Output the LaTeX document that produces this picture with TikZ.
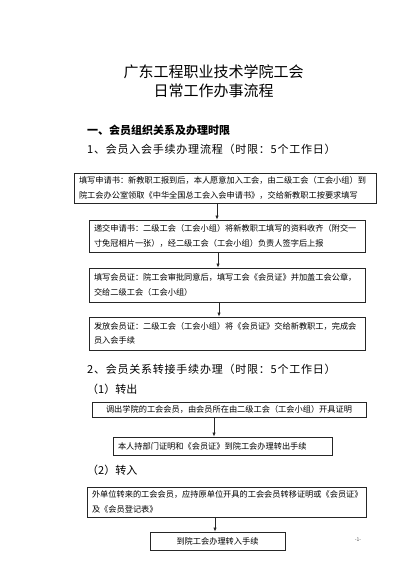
\documentclass[tikz,border=0pt]{standalone}
\usepackage{fontspec}
\setmainfont{Noto Sans CJK SC}
\newfontfamily\spacedfont[LetterSpace=7]{Noto Sans CJK SC}
\usetikzlibrary{arrows.meta}
\tikzset{
  flowbox/.style={draw=black!85, line width=0.7pt, rectangle, inner xsep=5pt, inner ysep=0pt,
    align=left, font=\fontsize{8.2}{14.5}\selectfont, anchor=center},
  heading/.style={anchor=west, font=\fontsize{11}{13}\selectfont, inner sep=0pt},
  titletext/.style={anchor=center, font=\fontsize{15}{18}\selectfont, inner sep=0pt},
  arr/.style={-{Latex[length=4pt,width=3.2pt]}, line width=0.6pt, draw=black!85}
}
\begin{document}
\begin{tikzpicture}[x=1pt,y=-1pt]
\useasboundingbox (0,0) rectangle (414,585);
\fill[white] (0,0) rectangle (414,585);

\node[titletext] (t1) at (213.5,72) {广东工程职业技术学院工会};
\node[titletext] (t2) at (213.5,91) {日常工作办事流程};

\node[heading, font=\fontsize{11}{13}\selectfont\bfseries] (h1) at (87,130) {一、会员组织关系及办理时限};
\node[heading, font=\fontsize{11}{13}\spacedfont] (h2) at (87,149.5) {1、会员入会手续办理流程（时限：5个工作日）};

\node[flowbox, minimum width=302pt, minimum height=30pt, text width=292pt] (b1) at (225,188)
  {填写申请书：新教职工报到后，本人愿意加入工会，由二级工会（工会小组）到\\院工会办公室领取《中华全国总工会入会申请书》，交给新教职工按要求填写};
\node[flowbox, minimum width=276pt, minimum height=32pt, text width=266pt] (b2) at (227,236)
  {递交申请书：二级工会（工会小组）将新教职工填写的资料收齐（附交一\\寸免冠相片一张），经二级工会（工会小组）负责人签字后上报};
\node[flowbox, minimum width=276pt, minimum height=34pt, text width=266pt] (b3) at (227,285)
  {填写会员证：院工会审批同意后，填写工会《会员证》并加盖工会公章，\\交给二级工会（工会小组）};
\node[flowbox, minimum width=276pt, minimum height=33pt, text width=266pt] (b4) at (227,333.5)
  {发放会员证：二级工会（工会小组）将《会员证》交给新教职工，完成会\\员入会手续};

\node[heading, font=\fontsize{11}{13}\spacedfont] (h3) at (87,369.5) {2、会员关系转接手续办理（时限：5个工作日）};
\node[heading] (h4) at (87,389) {（1）转出};

\node[flowbox, align=center, minimum width=274pt, minimum height=15pt, text width=264pt] (b5) at (229,409.5)
  {调出学院的工会会员，由会员所在由二级工会（工会小组）开具证明};
\node[flowbox, minimum width=219pt, minimum height=18pt, text width=209pt] (b6) at (222.5,446)
  {本人持部门证明和《会员证》到院工会办理转出手续};

\node[heading] (h5) at (87,470) {（2）转入};

\node[flowbox, minimum width=279pt, minimum height=30pt, text width=269pt] (b7) at (226.5,502)
  {外单位转来的工会会员，应持原单位开具的工会会员转移证明或《会员证》\\及《会员登记表》};
\node[flowbox, align=center, minimum width=135pt, minimum height=18pt, text width=125pt] (b8) at (217.5,541)
  {到院工会办理转入手续};

\node[font=\fontsize{5}{6}\selectfont, text=black!70, inner sep=0pt] (pg) at (358,540) {-1-};

\coordinate (a1) at (217,0);
\coordinate (a2) at (218,0);
\coordinate (a3) at (219,0);
\coordinate (a4) at (214,0);
\coordinate (a5) at (215,0);
\draw[arr] (b1.south -| a1) -- (b2.north -| a1);
\draw[arr] (b2.south -| a2) -- (b3.north -| a2);
\draw[arr] (b3.south -| a3) -- (b4.north -| a3);
\draw[arr] (b5.south -| a4) -- (b6.north -| a4);
\draw[arr] (b7.south -| a5) -- (b8.north -| a5);
\end{tikzpicture}
\end{document}
